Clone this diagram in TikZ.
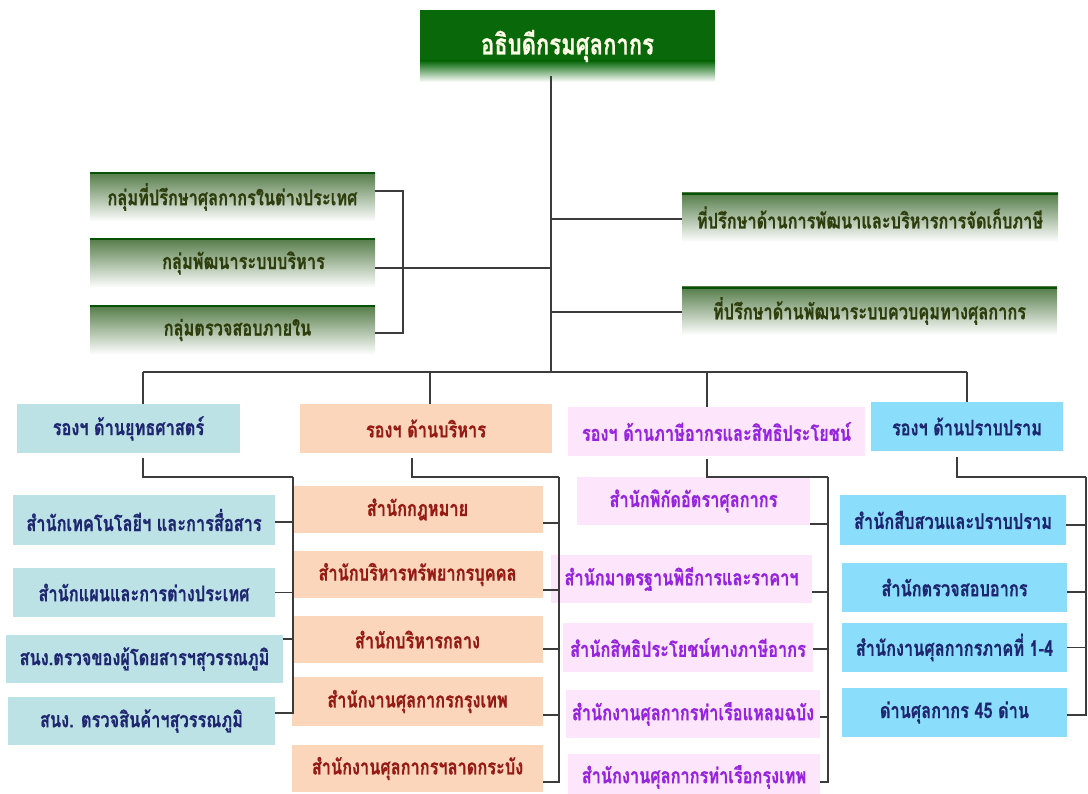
\documentclass[tikz,border=0pt]{standalone}
\usepackage{fontspec}
\newfontfamily\thai[Script=Thai,FakeStretch=0.76,BoldFeatures={FakeBold=0.6}]{Loma}
\definecolor{chiefgreen}{RGB}{8,104,10}
\definecolor{advgreen}{RGB}{84,124,72}
\definecolor{advtext}{RGB}{45,62,12}
\definecolor{stratfill}{RGB}{188,226,230}
\definecolor{adminfill}{RGB}{252,214,186}
\definecolor{taxfill}{RGB}{253,230,251}
\definecolor{supfill}{RGB}{138,222,252}
\definecolor{navytext}{RGB}{30,38,112}
\definecolor{redtext}{RGB}{150,26,20}
\definecolor{purpletext}{RGB}{150,36,222}
\definecolor{linkgray}{RGB}{60,60,60}

\begin{document}
\begin{tikzpicture}[x=1pt, y=-1pt, link/.style={draw=linkgray, line width=1.6pt}, box/.style={rectangle, inner sep=2pt, align=center, font=\thai\bfseries\fontsize{21.5}{25}\selectfont}, chiefbox/.style={box, minimum width=295, minimum height=72, text={rgb,255:red,255;green,255;blue,232}, font=\thai\bfseries\fontsize{29}{34}\selectfont, path picture={\fill[chiefgreen] (path picture bounding box.north west) rectangle ([yshift=20pt]path picture bounding box.south east); \shade[top color=chiefgreen, bottom color=white] ([yshift=21pt]path picture bounding box.south west) rectangle (path picture bounding box.south east);}}, advbox/.style={box, text=advtext, minimum height=49, path picture={\shade[top color=advgreen, middle color=advgreen!40!white, bottom color=white] (path picture bounding box.north west) rectangle (path picture bounding box.south east); \fill[chiefgreen!80!black] (path picture bounding box.north west) rectangle ([yshift=-2pt]path picture bounding box.north east);}}, stratbox/.style={box, fill=stratfill, text=navytext}, adminbox/.style={box, fill=adminfill, text=redtext}, taxbox/.style={box, fill=taxfill, text=purpletext}, supbox/.style={box, fill=supfill, text=navytext}]

  \useasboundingbox (0,0) rectangle (1088,794);

  \node[chiefbox] (chief) at (567.5,46) {อธิบดีกรมศุลกากร};

  \node[advbox, minimum width=285] (grpabroad) at (232.5,197) {กลุ่มที่ปรึกษาศุลกากรในต่างประเทศ};
  \node[advbox, minimum width=285] (grpsystem) at (232.5,263) {\hspace*{22pt}กลุ่มพัฒนาระบบบริหาร};
  \node[advbox, minimum width=285] (grpaudit) at (232.5,330) {\hspace*{10pt}กลุ่มตรวจสอบภายใน};
  \node[advbox, minimum width=376] (advtax) at (870,217.5) {ที่ปรึกษาด้านการพัฒนาและบริหารการจัดเก็บภาษี};
  \node[advbox, minimum width=375, minimum height=48] (advcontrol) at (869.5,311) {ที่ปรึกษาด้านพัฒนาระบบควบคุมทางศุลกากร};

  \node[stratbox, minimum width=223, minimum height=49] (depstrat) at (128.5,428.5) {รองฯ ด้านยุทธศาสตร์};
  \node[adminbox, minimum width=252, minimum height=49] (depadmin) at (426,428.5) {รองฯ ด้านบริหาร};
  \node[taxbox, minimum width=297, minimum height=49] (deptax) at (716.5,431.5) {รองฯ ด้านภาษีอากรและสิทธิประโยชน์};
  \node[supbox, minimum width=192, minimum height=49] (depsup) at (967,426.5) {รองฯ ด้านปราบปราม};

  \node[stratbox, minimum width=262, minimum height=50] (ictoffice) at (144,520) {สำนักเทคโนโลยีฯ และการสื่อสาร};
  \node[stratbox, minimum width=262, minimum height=49] (planoffice) at (144,592.5) {สำนักแผนและการต่างประเทศ};
  \node[stratbox, minimum width=277, minimum height=48] (paxoffice) at (144.5,659) {สนง.ตรวจของผู้โดยสารฯสุวรรณภูมิ};
  \node[stratbox, minimum width=267, minimum height=48] (cargooffice) at (141.5,721) {สนง. ตรวจสินค้าฯสุวรรณภูมิ};

  \node[adminbox, minimum width=251, minimum height=47] (lawoffice) at (417.5,509.5) {สำนักกฎหมาย};
  \node[adminbox, minimum width=251, minimum height=47] (hroffice) at (417.5,574.5) {สำนักบริหารทรัพยากรบุคคล};
  \node[adminbox, minimum width=251, minimum height=47] (centraloffice) at (417.5,639.5) {สำนักบริหารกลาง};
  \node[adminbox, minimum width=251, minimum height=49] (bkkoffice) at (417.5,701.5) {สำนักงานศุลกากรกรุงเทพ};
  \node[adminbox, minimum width=251, minimum height=47] (lkboffice) at (417.5,768.5) {สำนักงานศุลกากรฯลาดกระบัง};

  \node[taxbox, minimum width=233, minimum height=48] (tariffoffice) at (693.5,501) {สำนักพิกัดอัตราศุลกากร};
  \node[taxbox, minimum width=261, minimum height=48] (stdoffice) at (681.5,579) {สำนักมาตรฐานพิธีการและราคาฯ};
  \node[taxbox, minimum width=250, minimum height=49] (privoffice) at (688,647.5) {สำนักสิทธิประโยชน์ทางภาษีอากร};
  \node[taxbox, minimum width=254, minimum height=48] (lcboffice) at (693,714) {สำนักงานศุลกากรท่าเรือแหลมฉบัง};
  \node[taxbox, minimum width=252, minimum height=47] (portoffice) at (694,777) {สำนักงานศุลกากรท่าเรือกรุงเทพ};

  \node[supbox, minimum width=226, minimum height=50] (invoffice) at (953,520) {สำนักสืบสวนและปราบปราม};
  \node[supbox, minimum width=225, minimum height=49] (postoffice) at (954.5,587.5) {สำนักตรวจสอบอากร};
  \node[supbox, minimum width=225, minimum height=49] (regionoffice) at (954.5,647.5) {สำนักงานศุลกากรภาคที่ 1-4};
  \node[supbox, minimum width=225, minimum height=49] (checkpoint) at (954.5,712.5) {ด่านศุลกากร 45 ด่าน};

  \coordinate (trunk) at (551,372);
  \coordinate (bracket) at (403,268);
  \coordinate (dropstrat) at (143,372);
  \coordinate (dropadmin) at (430,372);
  \coordinate (droptax) at (707,372);
  \coordinate (dropsup) at (967,372);
  \coordinate (tailadmin) at (412,477);
  \coordinate (tailsup) at (957,477);
  \coordinate (spinestrat) at (293,477);
  \coordinate (spineadmin) at (559,477);
  \coordinate (spinetax) at (828,477);
  \coordinate (spinesup) at (1086,477);

  \draw[link] (chief.south -| trunk) ++(0,-6) -- (trunk);
  \draw[link] ([yshift=6pt]grpabroad.east) -| (bracket) |- ([yshift=-3pt]grpaudit.east);
  \draw[link] ([yshift=-5pt]grpsystem.east) -- (bracket -| trunk);
  \draw[link] ([yshift=-1.5pt]advtax.west) -- ([yshift=-1.5pt]advtax.west -| trunk);
  \draw[link] ([yshift=-1pt]advcontrol.west) -- ([yshift=-1pt]advcontrol.west -| trunk);

  \draw[link] (dropstrat) -- (dropsup);
  \draw[link] (dropstrat) -- (dropstrat |- depstrat.north);
  \draw[link] (dropadmin) -- (dropadmin |- depadmin.north);
  \draw[link] (droptax) -- (droptax |- deptax.north);
  \draw[link] (dropsup) -- (dropsup |- depsup.north);

  \draw[link] (depstrat.south -| dropstrat) ++(0,5) |- (spinestrat);
  \draw[link] (depadmin.south -| tailadmin) ++(0,5) |- (spineadmin);
  \draw[link] (deptax.south -| droptax) ++(0,3) |- (spinetax);
  \draw[link] (depsup.south -| tailsup) ++(0,6) |- (spinesup);

  \draw[link] (spinestrat) |- ([yshift=-2pt]ictoffice.east);
  \draw[link] (spinestrat) |- (planoffice.east);
  \draw[link] (spinestrat) |- ([yshift=20pt]paxoffice.east);
  \draw[link] (spinestrat) |- ([yshift=8pt]cargooffice.east);

  \draw[link] (spineadmin) |- ([yshift=-13.5pt]lawoffice.east);
  \draw[link] (spineadmin) |- ([yshift=-15.5pt]hroffice.east);
  \draw[link] (spineadmin) |- ([yshift=-9.5pt]centraloffice.east);
  \draw[link] (spineadmin) |- ([yshift=-13.5pt]bkkoffice.east);
  \draw[link] (spineadmin) |- ([yshift=-13.5pt]lkboffice.east);

  \draw[link] (spinetax) |- ([yshift=-23pt]tariffoffice.east);
  \draw[link] (spinetax) |- ([yshift=-13pt]stdoffice.east);
  \draw[link] (spinetax) |- ([yshift=-1.5pt]privoffice.east);
  \draw[link] (spinetax) |- ([yshift=-3pt]lcboffice.east);
  \draw[link] (spinetax) |- ([yshift=-5pt]portoffice.east);

  \draw[link] (spinesup) |- ([yshift=-5pt]invoffice.east);
  \draw[link] (spinesup) |- ([yshift=-4.5pt]postoffice.east);
  \draw[link] (spinesup) |- (regionoffice.east);
  \draw[link] (spinesup) |- ([yshift=-2.5pt]checkpoint.east);
\end{tikzpicture}
\end{document}
